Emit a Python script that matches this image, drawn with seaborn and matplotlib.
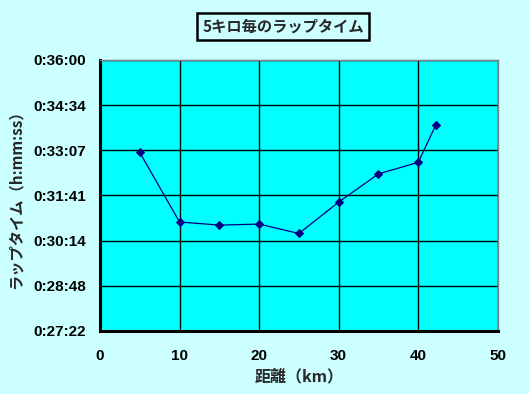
import matplotlib
matplotlib.use("Agg")
import matplotlib.pyplot as plt
import seaborn as sns
import pandas as pd

# ラップタイム（5km毎）
distance_km = [5, 10, 15, 20, 25, 30, 35, 40, 42.195]
lap_time = ["0:33:03", "0:30:50", "0:30:44", "0:30:46", "0:30:28",
            "0:31:28", "0:32:22", "0:32:44", "0:33:55"]
x_ticks = [0, 10, 20, 30, 40, 50]
y_tick_labels = ["0:27:22", "0:28:48", "0:30:14", "0:31:41",
                 "0:33:07", "0:34:34", "0:36:00"]
title = "5キロ毎のラップタイム"
x_label = "距離（km）"
y_label = "ラップタイム（h:mm:ss）"


def to_sec(s):
    h, m, sec = s.split(":")
    return int(h) * 3600 + int(m) * 60 + int(sec)


df = pd.DataFrame({"km": distance_km, "sec": [to_sec(t) for t in lap_time]})
# Excel式の軸: 0.019〜0.025日, 0.001日刻み
y_ticks = [(19 + i) * 86.4 for i in range(len(y_tick_labels))]

sns.set_theme(style="white")
plt.rcParams["font.family"] = ["Liberation Sans", "Noto Sans CJK JP", "DejaVu Sans"]
jp = ["Noto Sans CJK JP", "DejaVu Sans"]

fig = plt.figure(figsize=(5.29, 3.94), dpi=100, facecolor="#CCFFFF")
ax = fig.add_axes([0.189, 0.160, 0.752, 0.688])
ax.set_facecolor("#00FFFF")

sns.lineplot(data=df, x="km", y="sec", ax=ax, color="#000080", linewidth=0.9,
             marker="D", markersize=4.5, markerfacecolor="#000080",
             markeredgecolor="#000080", zorder=3)

ax.set_xlim(0, 50)
ax.set_ylim(y_ticks[0], y_ticks[-1])
ax.set_xticks(x_ticks)
ax.set_yticks(y_ticks)
ax.set_yticklabels(y_tick_labels)
ax.grid(True, color="black", linewidth=1.0)
ax.set_axisbelow(True)

for side in ["left", "bottom"]:
    ax.spines[side].set_color("black")
    ax.spines[side].set_linewidth(2.2)
for side in ["top", "right"]:
    ax.spines[side].set_color("#808080")
    ax.spines[side].set_linewidth(1.0)

ax.tick_params(axis="both", direction="in", length=5, width=1.5, colors="black",
               labelsize=11, pad=13)
ax.tick_params(axis="y", pad=10)
for lab in ax.get_xticklabels() + ax.get_yticklabels():
    lab.set_fontweight("bold")
    lab.set_fontfamily(["Liberation Sans", "DejaVu Sans"])

ax.set_xlabel(x_label, family=jp, fontsize=11.5, fontweight="bold", labelpad=4)
ax.set_ylabel(y_label, family=jp, fontsize=11, fontweight="bold", labelpad=7)

fig.text(0.535, 0.932, title, family=jp, fontsize=11, fontweight="bold",
         ha="center", va="center",
         bbox=dict(boxstyle="square,pad=0.35", facecolor="#CCFFFF",
                   edgecolor="black", linewidth=1.8))

fig.savefig("out.png", dpi=100, facecolor=fig.get_facecolor())
